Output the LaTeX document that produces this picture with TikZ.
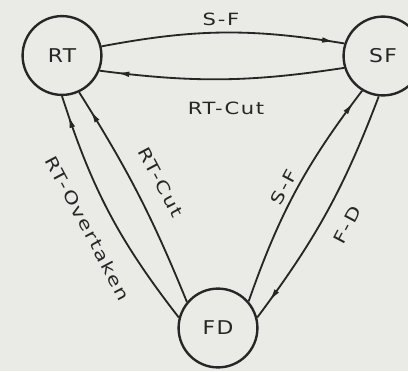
\documentclass[tikz,border=0pt]{standalone}
\usepackage{fontspec}
\newfontfamily\plotfont[FakeStretch=1.25,LetterSpace=10]{DejaVu Sans}
\newfontfamily\statefont[FakeStretch=1.15,LetterSpace=8]{DejaVu Sans}
\usetikzlibrary{arrows.meta,decorations.markings}

\definecolor{paper}{RGB}{234,234,231}
\definecolor{ink}{RGB}{38,38,38}

\begin{document}
\begin{tikzpicture}[x=0.025cm, y=0.025cm,
    state/.style={draw=ink, circle, line width=1.7pt, minimum size=1.97cm, inner sep=0pt,
        text=ink, font=\statefont\fontsize{13.5}{15}\selectfont},
    trans/.style={draw=ink, line width=1.3pt, postaction={decorate},
        decoration={markings, mark=at position #1 with {\arrow{Latex[length=9pt,width=4pt]}}}},
    trans/.default=0.93,
    lbl/.style={text=ink, font=\plotfont\fontsize{12}{14}\selectfont}]
    % Paper
    \useasboundingbox (0,0) rectangle (408,371);
    \clip (0,0) rectangle (408,371);
    \fill[paper] (0,0) rectangle (408,371);

    % States
    \node[state] (rt) at (62,315.5) {RT};
    \node[state] (sf) at (383,315) {SF};
    \node[state] (fd) at (218,43) {FD};

    % Between RT and SF
    \draw[trans=0.96] (rt.13) to[bend left=10] (sf.162);
    \draw[trans] (sf.197) to[bend left=8] (rt.338);
    \node[lbl] (sfTop) at (221,352) {S-F};
    \node[lbl] (cutTop) at (226,263) {RT-Cut};

    % Back to RT from FD
    \draw[trans=0.92] (fd.165) to[bend left=10] (rt.270);
    \draw[trans=0.91] (fd.140) to[bend right=5] (rt.295);
    \node[lbl, rotate=-62] (over) at (88,143) {RT-Overtaken};
    \node[lbl, rotate=-62] (cutLeft) at (161,189) {RT-Cut};

    % Between FD and SF
    \draw[trans=0.94] (fd.41) to[bend left=9] (sf.239);
    \draw[trans=0.92] (sf.264) to[bend left=8] (fd.15);
    \node[lbl, rotate=62] (sfRight) at (284,184) {S-F};
    \node[lbl, rotate=62] (fdRight) at (347,146) {F-D};
\end{tikzpicture}
\end{document}
